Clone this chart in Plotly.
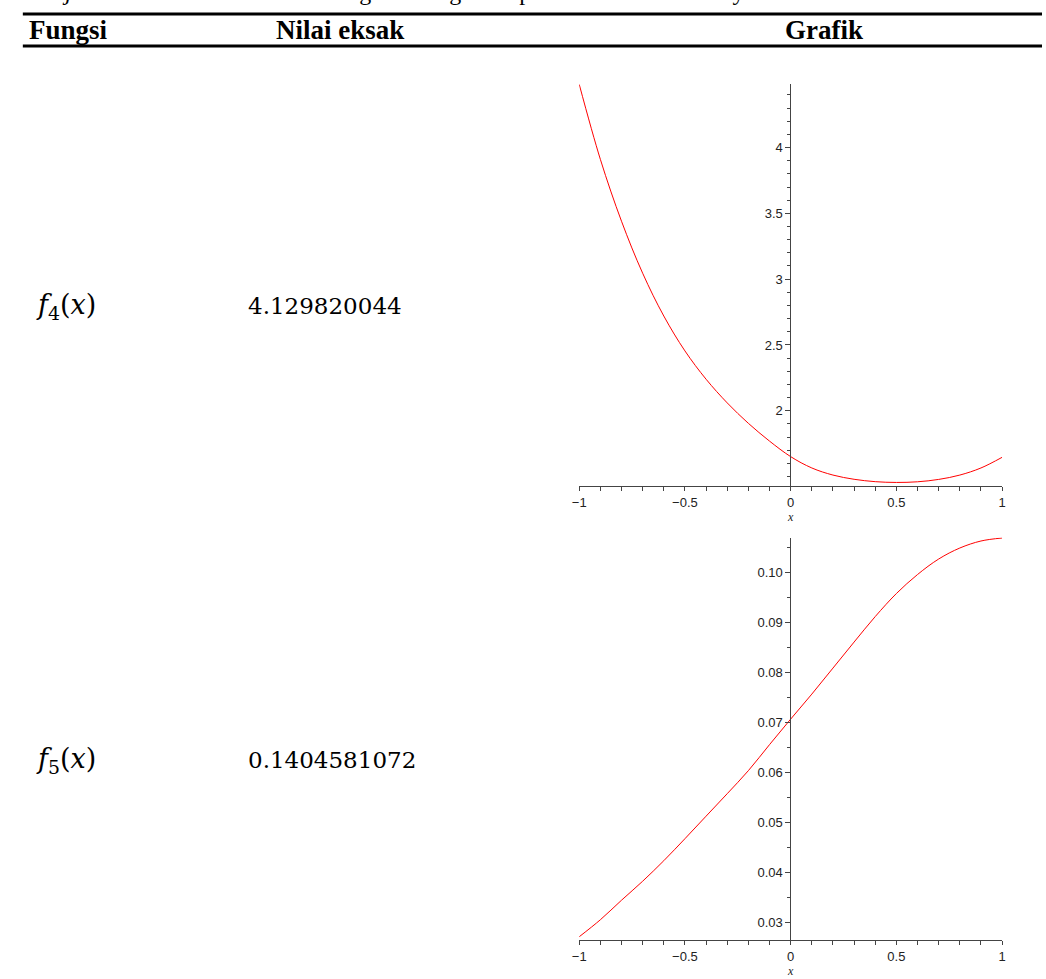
import plotly.graph_objects as go

# ---- data ----
x_vals = [-1.0, -0.9, -0.8, -0.7, -0.6, -0.5, -0.4, -0.3, -0.2, -0.1, 0.0,
          0.1, 0.2, 0.3, 0.4, 0.5, 0.6, 0.7, 0.8, 0.9, 1.0]
f4_vals = [4.48, 3.91, 3.44, 3.045, 2.72, 2.455, 2.24, 2.06, 1.905, 1.77, 1.652,
           1.566, 1.512, 1.480, 1.462, 1.456, 1.461, 1.479, 1.512, 1.566, 1.647]
f5_vals = [0.0272, 0.0306, 0.0345, 0.0383, 0.0424, 0.0468, 0.0513, 0.0558, 0.0604, 0.0656, 0.0707,
           0.0757, 0.0809, 0.0861, 0.0912, 0.0958, 0.0996, 0.1027, 0.1049, 0.1063, 0.1069]

headers = ["Fungsi", "Nilai eksak", "Grafik"]
func_labels = ["<i>f</i><sub>4</sub>(<i>x</i>)", "<i>f</i><sub>5</sub>(<i>x</i>)"]
exact_values = ["4.129820044", "0.1404581072"]
caption_italic = "Lanjutan"
caption_rest = " Tabel 1. Nilai Eksak Integrasi Fungsi Eksponensial dan Grafiknya"

W, H = 1046, 979
def px(v): return v / W
def py(v): return 1 - v / H

fig = go.Figure()
fig.add_trace(go.Scatter(x=x_vals, y=f4_vals, mode="lines", line=dict(color="#ff0000", width=1),
                         xaxis="x", yaxis="y", line_shape="spline", showlegend=False))
fig.add_trace(go.Scatter(x=x_vals, y=f5_vals, mode="lines", line=dict(color="#ff0000", width=1),
                         xaxis="x2", yaxis="y2", line_shape="spline", showlegend=False))

tickfont = dict(family="Liberation Sans", size=13, color="#222")
xdom = [px(578.3), px(1005.7)]
yaxis_pos = px(791.7)

common_x = dict(range=[-1, 1], showline=True, linecolor="#444", linewidth=1, ticks="outside",
                ticklen=4, tickcolor="#444", tickvals=[-1, -0.5, 0, 0.5, 1],
                ticktext=["\u22121", "\u22120.5", "0", "0.5", "1"],
                minor=dict(dtick=0.1, ticks="outside", ticklen=4, tickcolor="#444"),
                showgrid=False, zeroline=False, tickfont=tickfont, domain=xdom)
fig.update_layout(
    xaxis=dict(**common_x, anchor="y"),
    xaxis2=dict(**common_x, anchor="y2"),
    yaxis=dict(range=[1.429, 4.48], domain=[py(486), py(84.3)], anchor="free", position=yaxis_pos,
               showline=True, linecolor="#444", linewidth=1, ticks="outside", ticklen=5, tickcolor="#444",
               tickvals=[2, 2.5, 3, 3.5, 4], ticktext=["2", "2.5", "3", "3.5", "4"],
               minor=dict(dtick=0.1, tick0=0, ticks="outside", ticklen=3, tickcolor="#444"),
               showgrid=False, zeroline=False, tickfont=tickfont),
    yaxis2=dict(range=[0.02655, 0.1070], domain=[py(940), py(537.5)], anchor="free", position=yaxis_pos,
                showline=True, linecolor="#444", linewidth=1, ticks="outside", ticklen=5, tickcolor="#444",
                tickvals=[0.03, 0.04, 0.05, 0.06, 0.07, 0.08, 0.09, 0.10], tickformat=".2f",
                minor=dict(dtick=0.005, tick0=0, ticks="outside", ticklen=3, tickcolor="#444"),
                showgrid=False, zeroline=False, tickfont=tickfont),
    width=W, height=H, margin=dict(l=0, r=0, t=0, b=0),
    paper_bgcolor="white", plot_bgcolor="white",
)

ann = []
# caption (cut off at top)
ann.append(dict(x=px(18), y=py(7), xref="paper", yref="paper", xanchor="left", yanchor="bottom",
                text="<i>" + caption_italic + "</i>" + caption_rest, showarrow=False,
                font=dict(family="Liberation Serif", size=24, color="black")))
# headers
for txt, cx in zip(headers, [62, 337, 826]):
    ann.append(dict(x=px(cx), y=py(30), xref="paper", yref="paper", xanchor="center", yanchor="middle",
                    text="<b>" + txt + "</b>", showarrow=False,
                    font=dict(family="Liberation Serif", size=27, color="black")))
# row labels
for lab, val, cy in zip(func_labels, exact_values, [306, 760]):
    ann.append(dict(x=px(27), y=py(cy), xref="paper", yref="paper", xanchor="left", yanchor="middle",
                    text=lab, showarrow=False, font=dict(family="DejaVu Serif", size=27, color="black")))
    ann.append(dict(x=px(242), y=py(cy), xref="paper", yref="paper", xanchor="left", yanchor="middle",
                    text=val, showarrow=False, font=dict(family="DejaVu Serif", size=23, color="black")))
# x axis titles
for cy in [517, 971]:
    ann.append(dict(x=px(791.7), y=py(cy), xref="paper", yref="paper", xanchor="center", yanchor="middle",
                    text="<i>x</i>", showarrow=False, font=dict(family="Liberation Serif", size=12, color="#222")))
fig.update_layout(annotations=ann)

fig.add_shape(type="line", xref="paper", yref="paper", x0=px(16), x1=1, y0=py(14), y1=py(14),
              line=dict(color="black", width=3))
fig.add_shape(type="line", xref="paper", yref="paper", x0=px(16), x1=1, y0=py(46), y1=py(46),
              line=dict(color="black", width=3))

fig.write_html("out.html", config={"displayModeBar": False},
               post_script="document.body.style.margin='0';document.body.style.overflow='hidden';")
